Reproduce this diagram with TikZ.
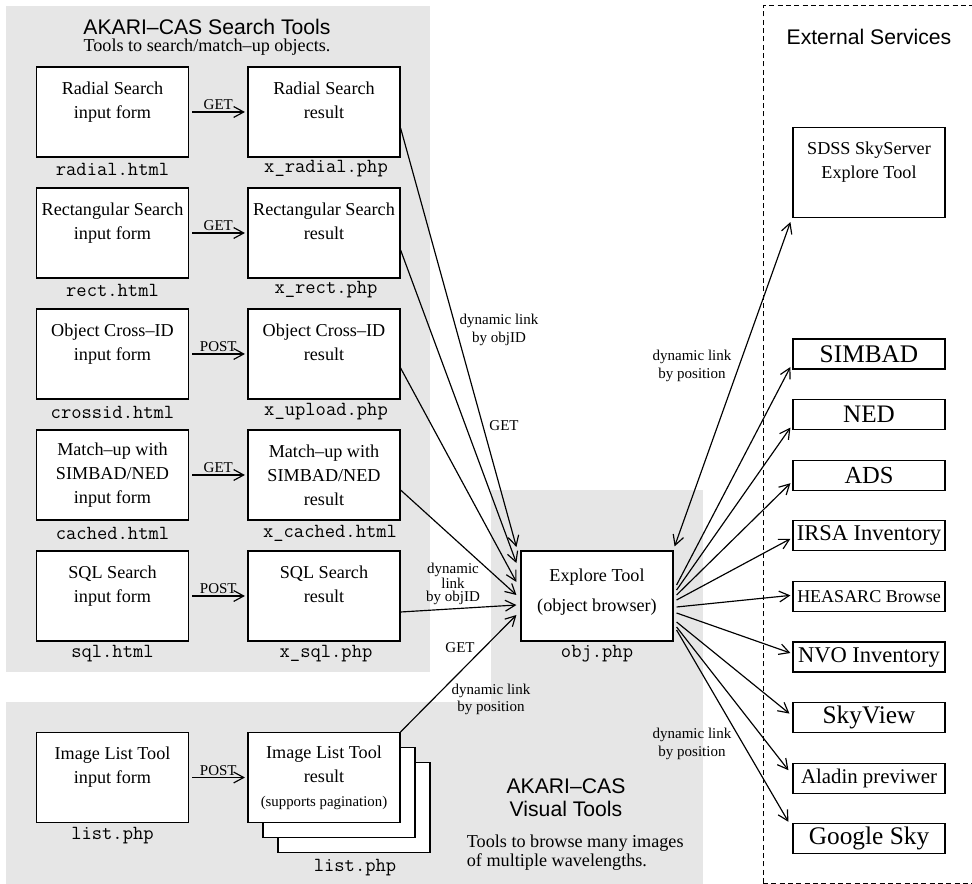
\documentclass[tikz,border=0pt]{standalone}
\usepackage{fontspec}
\setmainfont{Liberation Serif}
\setsansfont{Liberation Sans}
\usetikzlibrary{arrows.meta,calc}

\definecolor{panelgray}{RGB}{230,230,230}

\tikzset{
  formbox/.style={draw, fill=white, line width=0.7pt, inner sep=0pt,
    minimum width=91.2pt, minimum height=54pt, align=center,
    font=\fontsize{10.9}{14.4}\selectfont},
  extbox/.style={draw, fill=white, line width=0.7pt, inner sep=0pt,
    minimum width=91.2pt, minimum height=18pt},
  fname/.style={font=\ttfamily\fontsize{12}{13}\selectfont, inner sep=0pt},
  lbl/.style={font=\fontsize{9}{10.8}\selectfont, align=center, inner sep=1pt},
  paneltitle/.style={font=\sffamily\fontsize{12.7}{13.8}\selectfont, align=center, inner sep=0pt},
  link/.style={line width=0.7pt, -{Straight Barb[length=6pt,width=6.5pt,line width=0.7pt]}},
}

\begin{document}
\begin{tikzpicture}[x=0.6pt,y=-0.6pt]
    \useasboundingbox (0,0) rectangle (972,884);

    % background panels
    \fill[panelgray] (6,6) rectangle (430,672);
    \fill[panelgray] (491,490) rectangle (703,884);
    \fill[panelgray] (6,702) rectangle (703,884);
    \draw[dash pattern=on 3pt off 2pt, line width=0.6pt] (763,883) -- (763,6) -- (990,6);
    \draw[dash pattern=on 3pt off 2pt, line width=0.6pt] (763,883) -- (990,883);

    % titles
    \node[paneltitle] (searchtitle) at (207,27) {AKARI–CAS Search Tools};
    \node[font=\fontsize{10.9}{13}\selectfont] (searchsub) at (207,47) {Tools to search/match–up objects.};
    \node[paneltitle] (exttitle) at (869,37) {External Services};
    \node[paneltitle] (vistitle) at (566,798) {AKARI–CAS\\Visual Tools};
    \node[font=\fontsize{10.9}{11.4}\selectfont, align=left, anchor=west] (vissub) at (461,853)
        {Tools to browse many images\\of multiple wavelengths.};

    % search tools, row 1
    \node[formbox] (radform) at (112.5,112) {Radial Search\\input form\\~};
    \node[formbox] (radres) at (324,112) {Radial Search\\result\\~};
    \node[fname] (radformF) at (112.5,169) {radial.html};
    \node[fname] (radresF) at (326,169) {x\_radial.php};
    \draw[link, shorten <=2pt, shorten >=1.5pt] (radform) -- (radres) node[lbl, midway, above] (radget) {GET};

    % row 2
    \node[formbox] (rectform) at (112.5,233) {Rectangular Search\\input form\\~};
    \node[formbox] (rectres) at (324,233) {Rectangular Search\\result\\~};
    \node[fname] (rectformF) at (112.5,290) {rect.html};
    \node[fname] (rectresF) at (326,290) {x\_rect.php};
    \draw[link, shorten <=2pt, shorten >=1.5pt] (rectform) -- (rectres) node[lbl, midway, above] (rectget) {GET};

    % row 3
    \node[formbox] (xidform) at (112.5,354) {Object Cross–ID\\input form\\~};
    \node[formbox] (xidres) at (324,354) {Object Cross–ID\\result\\~};
    \node[fname] (xidformF) at (112.5,412) {crossid.html};
    \node[fname] (xidresF) at (326,412) {x\_upload.php};
    \draw[link, shorten <=2pt, shorten >=1.5pt] (xidform) -- (xidres) node[lbl, midway, above] (xidpost) {POST};

    % row 4
    \node[formbox] (cacheform) at (112.5,475) {Match–up with\\SIMBAD/NED\\input form};
    \node[formbox] (cacheres) at (324,475) {Match–up with\\SIMBAD/NED\\result};
    \node[fname] (cacheformF) at (112.5,533) {cached.html};
    \node[fname] (cacheresF) at (330,533) {x\_cached.html};
    \draw[link, shorten <=2pt, shorten >=1.5pt] (cacheform) -- (cacheres) node[lbl, midway, above] (cacheget) {GET};

    % row 5
    \node[formbox] (sqlform) at (112.5,596) {SQL Search\\input form\\~};
    \node[formbox] (sqlres) at (324,596) {SQL Search\\result\\~};
    \node[fname] (sqlformF) at (112.5,654) {sql.html};
    \node[fname] (sqlresF) at (326,654) {x\_sql.php};
    \draw[link, shorten <=2pt, shorten >=1.5pt] (sqlform) -- (sqlres) node[lbl, midway, above] (sqlpost) {POST};

    % visual tools
    \node[formbox] (listform) at (112.5,777.5) {Image List Tool\\input form\\~};
    \node[formbox] (listres3) at (354,807.5) {};
    \node[formbox] (listres2) at (339,792.5) {};
    \node[formbox] (listres) at (324,777.5) {Image List Tool\\result\\{\fontsize{8.9}{10}\selectfont(supports pagination)}};
    \node[fname] (listformF) at (112.5,836) {list.php};
    \node[fname] (listresF) at (355,868) {list.php};
    \draw[link, shorten <=2pt, shorten >=1.5pt] (listform) -- (listres) node[lbl, midway, above] (listpost) {POST};

    % explore tool
    \node[formbox] (explore) at (597,596) {Explore Tool\\[3.6pt](object browser)\\[-7.2pt]~};
    \node[fname] (exploreF) at (597,654) {obj.php};

    % links into the explore tool
    \draw[link] ($(radres.east)+(0,16)$) -- ($(explore.west)+(-4,-49)$);
    \draw[link] ($(rectres.east)+(0,17)$) -- ($(explore.west)+(-4,-33)$);
    \draw[link] ($(xidres.east)+(0,14)$) -- ($(explore.west)+(-4,-14)$);
    \draw[link] ($(cacheres.east)+(0,15)$) -- ($(explore.west)+(-4,-1)$);
    \draw[link] ($(sqlres.east)+(0,16)$) -- ($(explore.west)+(-4,9)$);
    \draw[link] (listres.north east) -- ($(explore.west)+(-4,19)$);
    \node[lbl] (objidlbl) at (499,330) {dynamic link\\by objID};
    \node[lbl] (getlbl) at (504,426) {GET};
    \node[lbl, font=\fontsize{9}{8.1}\selectfont] (sqllbl) at (453,584) {dynamic\\link\\by objID};
    \node[lbl] (listget) at (460,648) {GET};
    \node[lbl, font=\fontsize{9}{10.2}\selectfont] (listlbl) at (491,699) {dynamic link\\by position};

    % external services
    \node[formbox] (sdss) at (869,172.5) {SDSS SkyServer\\Explore Tool\\~};
    \node[extbox, font=\fontsize{15.2}{16}\selectfont] (simbad) at (869,354) {SIMBAD};
    \node[extbox, font=\fontsize{15.1}{16}\selectfont] (ned) at (869,414.6) {NED};
    \node[extbox, font=\fontsize{14.7}{16}\selectfont] (ads) at (869,475.2) {ADS};
    \node[extbox, font=\fontsize{13.5}{16}\selectfont] (irsa) at (869,535.8) {IRSA Inventory};
    \node[extbox, font=\fontsize{10.8}{16}\selectfont] (heasarc) at (869,596.4) {HEASARC Browse};
    \node[extbox, font=\fontsize{13.5}{16}\selectfont] (nvo) at (869,657) {NVO Inventory};
    \node[extbox, font=\fontsize{15.2}{16}\selectfont] (skyview) at (869,717.6) {SkyView};
    \node[extbox, font=\fontsize{12.5}{16}\selectfont] (aladin) at (869,778.2) {Aladin previwer};
    \node[extbox, font=\fontsize{15.2}{16}\selectfont] (google) at (869,838.8) {Google Sky};

    % links out of the explore tool
    \draw[line width=0.7pt, {Straight Barb[length=6pt,width=6.5pt,line width=0.7pt]}-{Straight Barb[length=6pt,width=6.5pt,line width=0.7pt]}]
        ($(explore.north east)+(1,-4)$) -- ($(sdss.south west)+(-2,4)$);
    \draw[link] ($(explore.east)+(3,-11)$) -- ($(simbad.west)+(-2,13)$);
    \draw[link] ($(explore.east)+(3,-6)$) -- ($(ned.west)+(-2,13)$);
    \draw[link] ($(explore.east)+(3,-1)$) -- ($(ads.west)+(-2,8)$);
    \draw[link] ($(explore.east)+(3,4)$) -- ($(irsa.west)+(-2,3)$);
    \draw[link] ($(explore.east)+(3,11)$) -- ($(heasarc.west)+(-2,-1)$);
    \draw[link] ($(explore.east)+(3,17)$) -- ($(nvo.west)+(-2,-4)$);
    \draw[link] ($(explore.east)+(3,26)$) -- ($(skyview.west)+(-3,-4)$);
    \draw[link] ($(explore.east)+(3,31)$) -- ($(aladin.west)+(-4,-8)$);
    \draw[link] ($(explore.east)+(3,34)$) -- ($(google.west)+(-4,-17)$);
    \node[lbl] (sdsslbl) at (692,366) {dynamic link\\by position};
    \node[lbl] (extlbl) at (692,743.5) {dynamic link\\by position};

\end{tikzpicture}
\end{document}
